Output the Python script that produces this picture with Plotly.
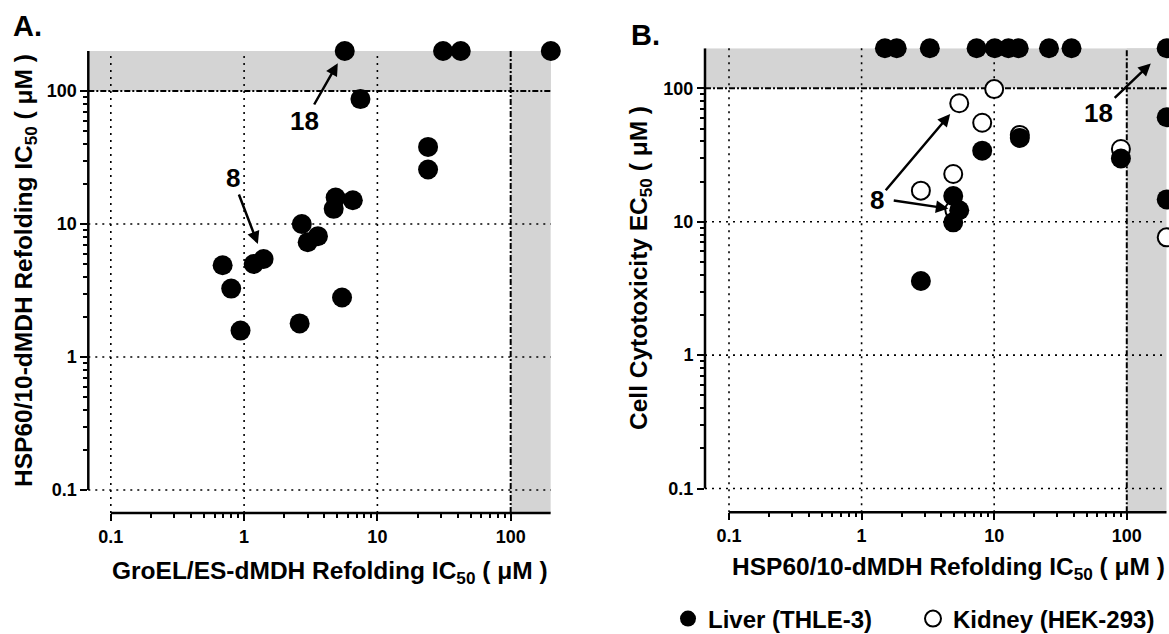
import numpy as np
import plotly.graph_objects as go

# ---------------- data ----------------
# Panel A: GroEL/ES IC50 (x) vs HSP60/10 IC50 (y), uM
groel_ic50 = [5.69, 31.1, 42.2, 200, 7.46, 24.0, 24.0, 4.86, 4.70, 6.54,
              2.71, 3.58, 3.00, 1.40, 1.18, 0.69, 0.80, 5.43, 0.94, 2.61]
hsp60_ic50_a = [200, 200, 200, 200, 87, 38, 25.7, 15.8, 13.0, 15.1,
                10.0, 8.1, 7.3, 5.46, 5.0, 4.9, 3.27, 2.8, 1.58, 1.79]

# Panel B: HSP60/10 IC50 (x) vs cell cytotoxicity EC50 (y), uM
liver_x = [1.50, 1.84, 3.27, 7.37, 10.1, 12.8, 15.3, 25.9, 38.3, 200,
           200, 200, 8.12, 15.6, 90.3, 4.91, 5.45, 4.91, 2.80]
liver_y = [200, 200, 200, 200, 200, 200, 200, 200, 200, 200,
           60.7, 14.7, 34.1, 42.5, 29.8, 15.6, 12.2, 9.9, 3.6]
kidney_x = [10.0, 5.45, 8.12, 15.6, 90.3, 4.91, 2.80, 200, 5.0]
kidney_y = [98.8, 77.3, 55.2, 44.8, 35.1, 22.8, 17.1, 7.64, 12.3]

tick_vals = [0.1, 1, 10, 100]
tick_text = ["0.1", "1", "10", "100"]
minor_vals = [m * d for d in (0.1, 1, 10) for m in range(2, 10)]
grid_vals = [0.1, 1, 10]
THRESH = 100
CAP = 200

# compound labels (index into the arrays above)
A_CMPD8, A_CMPD18 = 13, 0
B_CMPD8_LIVER, B_CMPD8_KIDNEY, B_CMPD18 = 16, 1, 9

# ---------------- style ----------------
FONT = "Liberation Sans, Arial, Helvetica, sans-serif"
SHADE = "#d4d4d4"
W, H = 1169, 634


def px_x(p):
    return p / W


def px_y(p):
    return (H - p) / H


fig = go.Figure()

fig.add_trace(go.Scatter(
    x=groel_ic50, y=hsp60_ic50_a, mode="markers", xaxis="x", yaxis="y",
    marker=dict(size=20, color="black", line=dict(width=0)),
    showlegend=False, cliponaxis=False, hoverinfo="x+y"))

fig.add_trace(go.Scatter(
    x=kidney_x, y=kidney_y, mode="markers", xaxis="x2", yaxis="y2",
    name="Kidney (HEK-293)", legendrank=2,
    marker=dict(size=18, color="white", line=dict(width=2, color="black")),
    cliponaxis=False))

fig.add_trace(go.Scatter(
    x=liver_x, y=liver_y, mode="markers", xaxis="x2", yaxis="y2",
    name="Liver (THLE-3)", legendrank=1,
    marker=dict(size=20, color="black", line=dict(width=0)),
    cliponaxis=False))

shapes = []
for xa, ya in (("x", "y"), ("x2", "y2")):
    # shaded "inactive" bands
    shapes.append(dict(type="rect", xref=f"{xa} domain", yref=ya, x0=0, x1=1,
                       y0=THRESH, y1=CAP, fillcolor=SHADE, line_width=0, layer="below"))
    shapes.append(dict(type="rect", xref=xa, yref=f"{ya} domain", x0=THRESH, x1=CAP,
                       y0=0, y1=1, fillcolor=SHADE, line_width=0, layer="below"))
    # dotted grid
    for v in grid_vals:
        shapes.append(dict(type="line", xref=xa, yref=f"{ya} domain", x0=v, x1=v, y0=0, y1=1,
                           line=dict(color="black", width=1.6, dash="2px,5px"), layer="below"))
        shapes.append(dict(type="line", xref=f"{xa} domain", yref=ya, x0=0, x1=1, y0=v, y1=v,
                           line=dict(color="black", width=1.6, dash="2px,5px"), layer="below"))
    # threshold dash-dot lines
    shapes.append(dict(type="line", xref=xa, yref=f"{ya} domain", x0=THRESH, x1=THRESH, y0=0, y1=1,
                       line=dict(color="black", width=2, dash="6px,2px,2px,2px"), layer="below"))
    shapes.append(dict(type="line", xref=f"{xa} domain", yref=ya, x0=0, x1=1, y0=THRESH, y1=THRESH,
                       line=dict(color="black", width=2, dash="6px,2px,2px,2px"), layer="below"))
    # axis lines (Prism style, starting at 0.1)
    shapes.append(dict(type="line", xref=f"{xa} domain", yref=ya, x0=0, x1=0, y0=0.1, y1=CAP,
                       line=dict(color="black", width=2.5), layer="above"))
    shapes.append(dict(type="line", xref=xa, yref=f"{ya} domain", x0=0.1, x1=CAP, y0=0, y1=0,
                       line=dict(color="black", width=2.5), layer="above"))

axis_common = dict(
    type="log", showgrid=False, zeroline=False, showline=False,
    ticks="outside", ticklen=7, tickwidth=2, tickcolor="black",
    tickmode="array", tickvals=tick_vals, ticktext=tick_text,
    tickfont=dict(family=FONT, size=18, color="black", weight="bold"),
    minor=dict(ticks="outside", ticklen=4, tickwidth=1.5, tickcolor="black",
               tickmode="array", tickvals=minor_vals, showgrid=False),
    fixedrange=True, automargin=False,
)

fig.update_layout(
    width=W, height=H, margin=dict(l=0, r=0, t=0, b=0, autoexpand=False),
    paper_bgcolor="white", plot_bgcolor="white",
    font=dict(family=FONT, color="black"),
    xaxis=dict(axis_common, domain=[px_x(88.3), px_x(550.8)], range=[-1.169, np.log10(CAP)], anchor="y"),
    yaxis=dict(axis_common, domain=[px_y(513), px_y(51)], range=[-1.173, np.log10(CAP)], anchor="x"),
    xaxis2=dict(axis_common, domain=[px_x(705), px_x(1166.7)], range=[-1.181, np.log10(CAP)], anchor="y2"),
    yaxis2=dict(axis_common, domain=[px_y(512.3), px_y(48.2)], range=[-1.178, np.log10(CAP)], anchor="x2"),
    shapes=shapes,
    showlegend=True,
    legend=dict(orientation="h", x=px_x(668), xanchor="left", y=px_y(619), yanchor="middle",
                valign="middle", font=dict(family=FONT, size=24, color="black", weight="bold"),
                bgcolor="rgba(0,0,0,0)", borderwidth=0, entrywidth=200, entrywidthmode="pixels"),
)

TITLE_FONT = dict(family=FONT, size=24.5, color="black", weight="bold")
ann = []
# axis titles
ann.append(dict(text="GroEL/ES-dMDH Refolding IC<sub>50</sub> ( μM )", xref="paper", yref="paper",
                x=px_x(330), y=px_y(572), xanchor="center", yanchor="middle", showarrow=False, font=TITLE_FONT))
ann.append(dict(text="HSP60/10-dMDH Refolding IC<sub>50</sub> ( μM )", xref="paper", yref="paper",
                x=px_x(25), y=px_y(271), xanchor="center", yanchor="middle", textangle=-90,
                showarrow=False, font=TITLE_FONT))
ann.append(dict(text="HSP60/10-dMDH Refolding IC<sub>50</sub> ( μM )", xref="paper", yref="paper",
                x=px_x(948), y=px_y(568), xanchor="center", yanchor="middle", showarrow=False, font=TITLE_FONT))
ann.append(dict(text="Cell Cytotoxicity EC<sub>50</sub> ( μM )", xref="paper", yref="paper",
                x=px_x(640), y=px_y(268), xanchor="center", yanchor="middle", textangle=-90,
                showarrow=False, font=TITLE_FONT))
# panel letters
ann.append(dict(text="A.", xref="paper", yref="paper", x=px_x(27), y=px_y(26), xanchor="center",
                yanchor="middle", showarrow=False, font=dict(family=FONT, size=29, color="black", weight="bold")))
ann.append(dict(text="B.", xref="paper", yref="paper", x=px_x(645), y=px_y(35), xanchor="center",
                yanchor="middle", showarrow=False, font=dict(family=FONT, size=29, color="black", weight="bold")))

LABEL_FONT = dict(family=FONT, size=26, color="black", weight="bold")
arrow = dict(showarrow=True, arrowhead=2, arrowsize=1, arrowwidth=2.5, arrowcolor="black",
             axref="pixel", ayref="pixel", font=LABEL_FONT)
# Panel A labels
ann.append(dict(arrow, text="8", xref="x", yref="y",
                x=np.log10(groel_ic50[A_CMPD8]), y=np.log10(hsp60_ic50_a[A_CMPD8]),
                ax=-31, ay=-81, standoff=16))
ann.append(dict(arrow, text="18", xref="x", yref="y",
                x=np.log10(groel_ic50[A_CMPD18]), y=np.log10(hsp60_ic50_a[A_CMPD18]),
                ax=-40, ay=70, standoff=14))
# Panel B labels
ann.append(dict(arrow, text="8", xref="x2", yref="y2",
                x=np.log10(kidney_x[B_CMPD8_KIDNEY]), y=np.log10(kidney_y[B_CMPD8_KIDNEY]),
                ax=-82, ay=97, standoff=14))
ann.append(dict(arrow, text="", xref="x2", yref="y2",
                x=np.log10(liver_x[B_CMPD8_LIVER]), y=np.log10(liver_y[B_CMPD8_LIVER]),
                ax=-67, ay=-10, standoff=11))
ann.append(dict(arrow, text="18", xref="x2", yref="y2",
                x=np.log10(liver_x[B_CMPD18]), y=np.log10(liver_y[B_CMPD18]),
                ax=-68, ay=65, standoff=22))

fig.update_layout(annotations=ann)

fig.write_html("out.html")
